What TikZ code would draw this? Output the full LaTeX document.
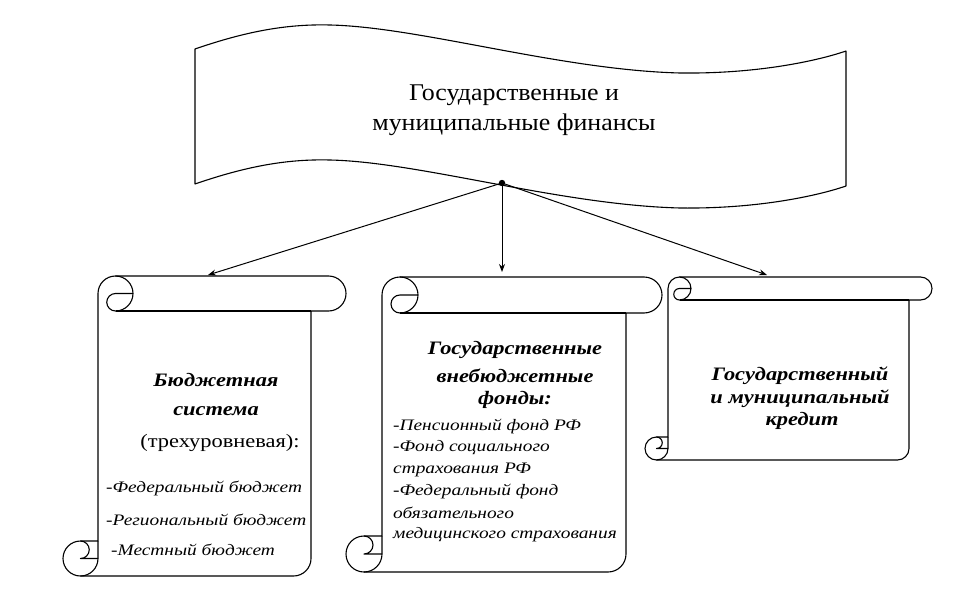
\documentclass[tikz,border=0pt]{standalone}
\usepackage{fontspec}
\setmainfont{Liberation Serif}
\newfontfamily\wideA[FakeStretch=1.18]{Liberation Serif}
\newfontfamily\wideB[FakeStretch=1.21]{Liberation Serif}
\newfontfamily\wideC[FakeStretch=1.08]{Liberation Serif}
\usetikzlibrary{arrows.meta}
\newcommand\drawscroll[5]{%
 \pgfmathsetmacro\Xa{#1}\pgfmathsetmacro\Ya{#2}\pgfmathsetmacro\Xb{#3}\pgfmathsetmacro\Yb{#4}\pgfmathsetmacro\ch{#5}%
 \pgfmathsetmacro\chh{\ch/2}\pgfmathsetmacro\chq{\ch/4}%
 \pgfmathsetmacro\xc{\Xa+\ch}\pgfmathsetmacro\xd{\Xa+1.5*\ch}\pgfmathsetmacro\xe{\Xa+2*\ch}%
 \pgfmathsetmacro\xf{\Xb-\ch}\pgfmathsetmacro\xg{\Xb-\chh}\pgfmathsetmacro\xh{\Xa+\chh}%
 \pgfmathsetmacro\ya{\Ya+\chh}\pgfmathsetmacro\yb{\Ya+\ch}\pgfmathsetmacro\yc{\Yb-\ch}\pgfmathsetmacro\yd{\Yb-\chh}%
 \draw[outline] (\xc,\yc) -- (\xc,\ya) arc[start angle=180, delta angle=90, radius=\chh] -- (\xg,\Ya)
   arc[start angle=270, delta angle=180, radius=\chh] -- (\xf,\yb) -- (\xf,\yd)
   arc[start angle=0, delta angle=90, radius=\chh] -- (\xh,\Yb)
   arc[start angle=90, delta angle=180, radius=\chh] -- cycle;
 \draw[outline] (\xd,\Ya) arc[start angle=270, delta angle=180, radius=\chh]
   arc[start angle=90, delta angle=180, radius=\chq] -- (\xe,\ya);
 \draw[outline] (\xf,\yb) -- (\xd,\yb);
 \draw[outline] (\xh,\yc) arc[start angle=270, delta angle=180, radius=\chq] -- (\xc,\yd);
 \draw[outline] (\xh,\Yb) arc[start angle=90, delta angle=-90, radius=\chh] -- (\xc,\yc);
}
\begin{document}
\begin{tikzpicture}[x=1pt,y=-1pt,
  outline/.style={line width=1.1pt, line join=round},
  conn/.style={line width=1pt, -{Stealth[length=8pt,width=6pt]}},
  head/.style={font=\wideA\fontsize{19}{22}\selectfont\bfseries\itshape, align=center, inner sep=0pt},
  plain/.style={font=\wideA\fontsize{19}{22}\selectfont, inner sep=0pt},
  item/.style={font=\wideB\fontsize{16}{18}\selectfont\itshape, anchor=west, inner sep=0pt},
  title/.style={font=\wideC\fontsize{24}{30}\selectfont, align=center, inner sep=0pt}]
\useasboundingbox (0,0) rectangle (968,596);
% banner
\draw[outline] (195,49) .. controls (250,30) and (290,24) .. (330,25)
  .. controls (420,27) and (560,70) .. (680,73)
  .. controls (760,74) and (820,60) .. (846,51) -- (846,186)
  .. controls (820,195) and (760,209) .. (680,208)
  .. controls (560,205) and (420,162) .. (330,160)
  .. controls (290,159) and (250,165) .. (195,184) -- cycle;
\node[title] (main) at (514,110) {Государственные и\\муниципальные финансы};
% scrolls
\drawscroll{63}{276}{346}{576}{35}
\drawscroll{346}{277}{662}{572}{36}
\drawscroll{645}{277}{932}{460}{23}
\node[inner sep=0pt, minimum width=283pt, minimum height=300pt] (s1) at (204.5,426) {};
\node[inner sep=0pt, minimum width=316pt, minimum height=295pt] (s2) at (504,424.5) {};
\node[inner sep=0pt, minimum width=287pt, minimum height=183pt] (s3) at (788.5,368.5) {};
% scroll 1 text
\node[head] (b1) at (216,380) {Бюджетная};
\node[head] (b2) at (216,411) {система};
\node[plain] (b3) at (220,443) {(трехуровневая):};
\node[item] (b4) at (106,488) {-Федеральный бюджет};
\node[item] (b5) at (106,520) {-Региональный бюджет};
\node[item] (b6) at (111,550) {-Местный бюджет};
% scroll 2 text
\node[head] (f1) at (515,350) {Государственные};
\node[head] (f2) at (515,376) {внебюджетные};
\node[head] (f3) at (515,400) {фонды:};
\node[item] (f4) at (393,427) {-Пенсионный фонд РФ};
\node[item] (f5) at (393,448) {-Фонд социального};
\node[item] (f6) at (393,470) {страхования РФ};
\node[item] (f7) at (393,492) {-Федеральный фонд};
\node[item] (f8) at (393,513) {обязательного};
\node[item] (f9) at (393,535) {медицинского страхования};
% scroll 3 text
\node[head] (k1) at (800,376) {Государственный};
\node[head] (k2) at (800,399) {и муниципальный};
\node[head] (k3) at (802,421) {кредит};
% connectors
\coordinate (hub) at (502,183);
\coordinate (t1) at (208,275);
\coordinate (t2) at (502,272);
\coordinate (t3) at (767,275);
\draw[conn] (hub) -- (t1);
\draw[conn] (hub) -- (t2);
\draw[conn] (hub) -- (t3);
\fill (hub) circle[radius=3.2];
\end{tikzpicture}
\end{document}
